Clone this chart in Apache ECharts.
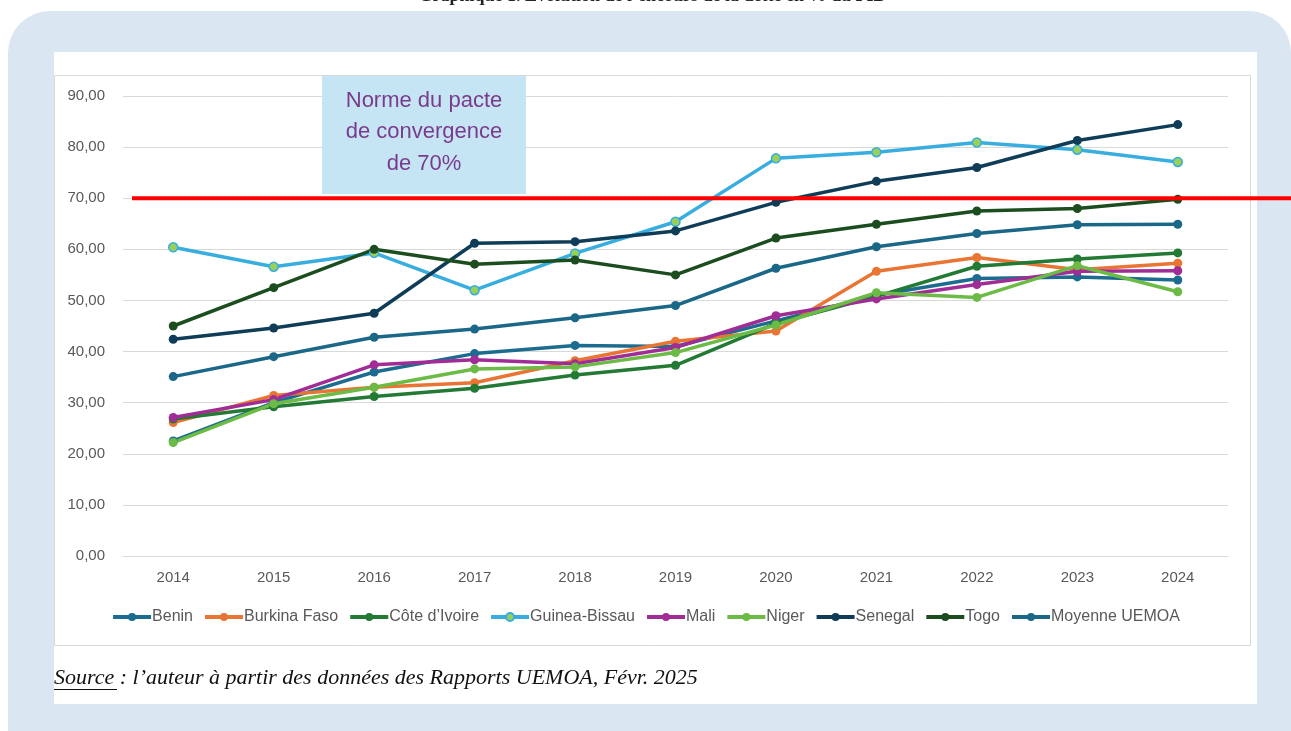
<!DOCTYPE html>
<html>
<head>
<meta charset="utf-8">
<script src="https://cdn.jsdelivr.net/npm/echarts@6/dist/echarts.min.js"></script>
<style>
html,body{margin:0;padding:0;background:#ffffff;}
#c{width:1291px;height:731px;}
</style>
</head>
<body>
<div id="c"></div>
<script>
const years = ['2014','2015','2016','2017','2018','2019','2020','2021','2022','2023','2024'];
const yTicks = [0,10,20,30,40,50,60,70,80,90];
const benin = [22.5,30.0,36.0,39.6,41.2,41.0,46.0,51.0,54.3,54.6,54.0];
const burkina = [26.1,31.4,33.0,33.9,38.2,42.0,44.0,55.7,58.4,56.0,57.3];
const civ = [26.8,29.2,31.2,32.8,35.4,37.3,45.5,50.8,56.7,58.1,59.3];
const guineaBissau = [60.4,56.6,59.3,52.0,59.2,65.4,77.8,79.0,80.9,79.5,77.1];
const mali = [27.1,30.6,37.4,38.4,37.6,40.8,47.0,50.3,53.1,55.7,55.8];
const niger = [22.2,29.8,33.0,36.6,37.0,39.8,45.2,51.5,50.6,56.8,51.7];
const senegal = [42.4,44.6,47.5,61.2,61.5,63.6,69.2,73.3,76.0,81.3,84.4];
const togo = [45.0,52.5,60.0,57.1,57.9,55.0,62.2,64.9,67.5,68.0,69.8];
const moyenne = [35.1,39.0,42.8,44.4,46.6,49.0,56.3,60.5,63.1,64.8,64.9];
const normValue = 70;

const seriesDefs = [
  {name:'Benin', data:benin, color:'#1c6c8f'},
  {name:'Burkina Faso', data:burkina, color:'#e97534'},
  {name:'Côte d\u2019Ivoire', data:civ, color:'#237a34'},
  {name:'Guinea-Bissau', data:guineaBissau, color:'#38ade0', marker:'#98d05a'},
  {name:'Mali', data:mali, color:'#a02d96'},
  {name:'Niger', data:niger, color:'#6cbb46'},
  {name:'Senegal', data:senegal, color:'#0f3d58'},
  {name:'Togo', data:togo, color:'#1b4d1f'},
  {name:'Moyenne UEMOA', data:moyenne, color:'#1a6788'}
];

const chart = echarts.init(document.getElementById('c'), null, {renderer:'canvas'});
const font = 'Liberation Sans, Arial, sans-serif';

const series = seriesDefs.map(d => ({
  name: d.name,
  type: 'line',
  data: d.data,
  symbol: 'circle',
  symbolSize: 9,
  z: 3,
  lineStyle: {color: d.color, width: 3.5},
  itemStyle: d.marker ? {color: d.marker, borderColor: d.color, borderWidth: 1.5} : {color: d.color},
  emphasis: {disabled: true}
}));

chart.setOption({
  animation: false,
  backgroundColor: '#ffffff',
  grid: {left: 123, right: 63, top: 96, bottom: 175, containLabel: false},
  xAxis: {
    type: 'category',
    data: years,
    boundaryGap: true,
    axisLine: {show: true, lineStyle: {color: '#d9d9d9', width: 1}},
    axisTick: {show: false},
    axisLabel: {color: '#595959', fontSize: 15, fontFamily: font, margin: 14}
  },
  yAxis: {
    type: 'value',
    min: yTicks[0],
    max: yTicks[yTicks.length-1],
    interval: 10,
    axisLine: {show: false},
    axisTick: {show: false},
    splitLine: {lineStyle: {color: '#d9d9d9', width: 1}},
    axisLabel: {color: '#595959', fontSize: 15, fontFamily: font, margin: 18,
      formatter: v => v.toFixed(2).replace('.', ',')}
  },
  legend: {
    bottom: 101,
    left: 'center',
    itemWidth: 38,
    itemHeight: 10,
    itemGap: 10,
    lineStyle: {width: 4},
    textStyle: {color: '#595959', fontSize: 16, fontFamily: font, padding: [0,0,0,-4]},
    data: seriesDefs.map(d => d.name)
  },
  series: series
});

const y70 = chart.convertToPixel({yAxisIndex: 0}, normValue);

chart.setOption({
  graphic: [
    {type:'rect', z:-10, silent:true, shape:{x:8, y:11, width:1283, height:780, r:42}, style:{fill:'#dae6f2'}},
    {type:'rect', z:-9, silent:true, shape:{x:54, y:52, width:1203, height:652}, style:{fill:'#ffffff'}},
    {type:'rect', z:-8, silent:true, shape:{x:54.5, y:75.5, width:1196, height:570}, style:{fill:'none', stroke:'#d9d9d9', lineWidth:1}},
    {type:'text', z:10, silent:true, style:{x:652, y:-4, text:'Graphique 1. Evolution de l\u2019encours de la dette en % du PIB', fill:'#222', font:'bold 18px Liberation Serif, serif', textAlign:'center', textVerticalAlign:'middle'}},
    {type:'rect', z:5, silent:true, shape:{x:322, y:76, width:204, height:118}, style:{fill:'#c6e5f4'}},
    {type:'text', z:6, silent:true, style:{x:424, y:132, text:'Norme du pacte\nde convergence\nde 70%', fill:'#7a3b8c', font:'22px Liberation Sans, Arial, sans-serif', textAlign:'center', textVerticalAlign:'middle', lineHeight:31.5}},
    {type:'line', z:7, silent:true, shape:{x1:132, y1:y70, x2:1291, y2:y70}, style:{stroke:'#ff0000', lineWidth:4}},
    {type:'text', z:6, silent:true, style:{x:54, y:678, text:'Source : l\u2019auteur à partir des données des Rapports UEMOA, Févr. 2025', fill:'#111', font:'italic 22px Liberation Serif, serif', textAlign:'left', textVerticalAlign:'middle'}},
    {type:'line', z:6, silent:true, shape:{x1:54, y1:689.5, x2:117, y2:689.5}, style:{stroke:'#111', lineWidth:1}}
  ]
});
</script>
</body>
</html>
